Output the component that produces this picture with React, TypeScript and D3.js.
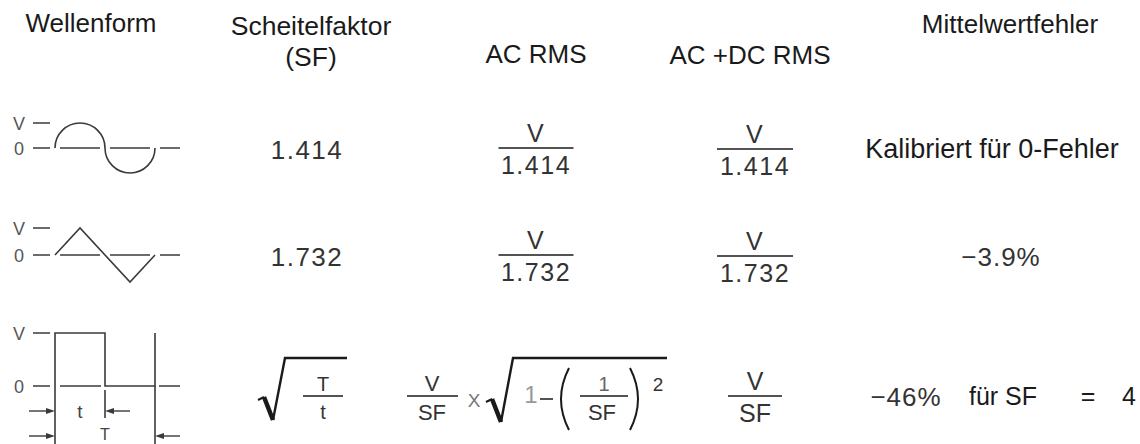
import * as d3 from "d3";

const headers = [
  { lines: ["Wellenform"], x: 91, y: [32], size: 26 },
  { lines: ["Scheitelfaktor", "(SF)"], x: 311, y: [35, 66], size: 26.5 },
  { lines: ["AC RMS"], x: 536, y: [63], size: 26 },
  { lines: ["AC +DC RMS"], x: 750, y: [64], size: 26 },
  { lines: ["Mittelwertfehler"], x: 1010, y: [33], size: 26 },
];

const waveforms = ["sine", "triangle", "pulse"];
const crestFactors = ["1.414", "1.732"];
const acRmsDenoms = ["1.414", "1.732"];
const acDcRmsDenoms = ["1.414", "1.732", "SF"];
const meanErrors = ["Kalibriert für 0-Fehler", "−3.9%"];
const pulseError = { value: "−46%", label: "für SF", eq: "=", sf: "4" };

const rowY = d3.scaleOrdinal<string, number>().domain(waveforms).range([149, 256, 396]);
const zeroY = d3.scaleOrdinal<string, number>().domain(waveforms).range([148, 255, 386]);
const amp = d3.scaleOrdinal<string, number>().domain(waveforms).range([25, 27, 53]);
const wx = d3.scaleLinear().domain([0, 4]).range([55, 155]);

const SANS = "'Liberation Sans', Arial, sans-serif";
const INK = "#1a1a1a";
const NUM = "#333";
const LINE = "#3a3a3a";

const Frac = ({ x, y, top, bottom, w, size = 25, spacing = 0 }: any) => (
  <g>
    <text x={x} y={y - 6} textAnchor="middle" fontSize={size} fill={NUM} letterSpacing={spacing}>{top}</text>
    <line x1={x - w / 2} x2={x + w / 2} y1={y} y2={y} stroke={INK} strokeWidth={1.6} />
    <text x={x} y={y + 26} textAnchor="middle" fontSize={size} fill={NUM} letterSpacing={spacing}>{bottom}</text>
  </g>
);

const Arrow = ({ from, to, y }: { from: number; to: number; y: number }) => {
  const dir = Math.sign(to - from);
  return (
    <g>
      <line x1={from} x2={to - dir * 7} y1={y} y2={y} stroke={LINE} strokeWidth={1.4} />
      <path d={`M${to},${y}L${to - dir * 9},${y - 3}L${to - dir * 9},${y + 3}Z`} fill={LINE} />
    </g>
  );
};

// radical sign: thin tick, heavy downstroke, thin upstroke, overbar
const Radical = ({ x, y, top, end }: { x: number; y: number; top: number; end: number }) => (
  <g fill="none" stroke={INK} strokeLinecap="butt">
    <path d={`M${x},${y + 4}L${x + 6},${y + 1}`} strokeWidth={2} />
    <path d={`M${x + 6},${y + 1}L${x + 15},${y + 24}`} strokeWidth={4.5} />
    <path d={`M${x + 15},${y + 24}L${x + 27},${top}L${end},${top}`} strokeWidth={2.4} strokeLinejoin="miter" />
  </g>
);

const Waveform = ({ kind }: { kind: string }) => {
  const z = zeroY(kind);
  const a = amp(kind);
  const vy = z - a;
  let d = "";
  if (kind === "sine") {
    const r = wx(1) - wx(0);
    const p = d3.path();
    p.moveTo(wx(0), z);
    p.arc(wx(1), z, r, Math.PI, 2 * Math.PI, false);
    p.arc(wx(3), z, r, Math.PI, 0, true);
    d = p.toString();
  } else if (kind === "triangle") {
    const pts: [number, number][] = [[0, 0], [1, 1], [3, -1], [4, 0]];
    d = d3.line<[number, number]>().x(p => wx(p[0])).y(p => z - p[1] * a)(pts) || "";
  } else {
    const pts: [number, number][] = [[0, 0], [0, 1], [2, 1], [2, 0], [4, 0], [4, 1]];
    d = d3.line<[number, number]>().x(p => wx(p[0])).y(p => z - p[1] * a)(pts) || "";
  }
  const segs = kind === "pulse" ? [[33, 50], [60, 101], [159, 180]] : [[33, 50], [60, 100], [110, 150], [160, 180]];
  return (
    <g>
      <text x={19} y={vy + 6.5} textAnchor="middle" fontSize={18} fill="#555">V</text>
      <text x={19} y={z + 6.5} textAnchor="middle" fontSize={18} fill="#555">0</text>
      <line x1={33} x2={50} y1={vy} y2={vy} stroke={LINE} strokeWidth={1.5} />
      {segs.map((s, i) => (
        <line key={i} x1={s[0]} x2={s[1]} y1={z} y2={z} stroke={LINE} strokeWidth={1.5} />
      ))}
      <path d={d} fill="none" stroke={LINE} strokeWidth={1.6} />
      {kind === "pulse" && (
        <g>
          <line x1={wx(0)} x2={wx(0)} y1={z} y2={444} stroke={LINE} strokeWidth={1.6} />
          <line x1={wx(4)} x2={wx(4)} y1={z} y2={444} stroke={LINE} strokeWidth={1.6} />
          <line x1={wx(2)} x2={wx(2)} y1={z + 4} y2={z + 32} stroke={LINE} strokeWidth={1.6} />
          <Arrow from={29} to={wx(0)} y={411} />
          <Arrow from={130} to={wx(2)} y={411} />
          <text x={80} y={418} textAnchor="middle" fontSize={19} fill="#444">t</text>
          <Arrow from={29} to={wx(0)} y={436} />
          <Arrow from={180} to={wx(4)} y={436} />
          <text x={wx(2)} y={440} textAnchor="middle" fontSize={16} fill="#444">T</text>
        </g>
      )}
    </g>
  );
};

export default function App() {
  const y3 = rowY("pulse");
  const top = 358;
  return (
    <svg width={1140} height={444} style={{ position: "absolute", left: 0, top: 0, background: "#fff" }} fontFamily={SANS}>
      {headers.map((h, i) => (
        <g key={i}>
          {h.lines.map((l, j) => (
            <text key={j} x={h.x} y={h.y[j]} textAnchor="middle" fontSize={h.size} fill={INK}>{l}</text>
          ))}
        </g>
      ))}

      {waveforms.map(k => <Waveform key={k} kind={k} />)}

      {crestFactors.map((c, i) => (
        <text key={i} x={307} y={rowY(waveforms[i]) + 10} textAnchor="middle" fontSize={26} fill={NUM} letterSpacing={1.5}>{c}</text>
      ))}
      {acRmsDenoms.map((c, i) => (
        <Frac key={i} x={536} y={rowY(waveforms[i]) - 1} top="V" bottom={c} w={75} spacing={1.5} />
      ))}
      {acDcRmsDenoms.map((c, i) => (
        <Frac key={i} x={755} y={rowY(waveforms[i])} top="V" bottom={c} w={c === "SF" ? 54 : 76} spacing={c === "SF" ? 0 : 1.5} />
      ))}
      <text x={992} y={rowY("sine") + 9} textAnchor="middle" fontSize={27} fill={INK}>{meanErrors[0]}</text>
      <text x={1001} y={rowY("triangle") + 10} textAnchor="middle" fontSize={26} fill={NUM} letterSpacing={1}>{meanErrors[1]}</text>

      {/* crest factor of the pulse: sqrt(T/t) */}
      <Radical x={258} y={y3} top={top} end={347} />
      <text x={323} y={y3 - 5} textAnchor="middle" fontSize={20} fill={NUM}>T</text>
      <line x1={303} x2={343} y1={y3} y2={y3} stroke={INK} strokeWidth={1.6} />
      <text x={323} y={y3 + 23} textAnchor="middle" fontSize={20} fill={NUM}>t</text>

      {/* AC RMS of the pulse: V/SF x sqrt(1-(1/SF)^2) */}
      <text x={432} y={y3 - 5} textAnchor="middle" fontSize={22} fill={NUM}>V</text>
      <line x1={407} x2={458} y1={y3} y2={y3} stroke={INK} strokeWidth={1.6} />
      <text x={432} y={y3 + 24} textAnchor="middle" fontSize={22} fill={NUM}>SF</text>
      <text x={474} y={y3 + 11} textAnchor="middle" fontSize={19} fill="#777">X</text>
      <Radical x={486} y={y3 + 2} top={top} end={667} />
      <text x={531} y={y3 + 7} textAnchor="middle" fontSize={24} fill="#999">1</text>
      <line x1={540} x2={553} y1={y3 + 3} y2={y3 + 3} stroke={INK} strokeWidth={1.5} />
      <path d={`M569,${top + 10}Q553,${y3 + 3} 569,${y3 + 34}`} fill="none" stroke={INK} strokeWidth={2} />
      <text x={604} y={y3 - 5} textAnchor="middle" fontSize={20} fill="#666">1</text>
      <line x1={580} x2={628} y1={y3} y2={y3} stroke={INK} strokeWidth={1.6} />
      <text x={602} y={y3 + 24} textAnchor="middle" fontSize={22} fill={NUM}>SF</text>
      <path d={`M630,${top + 10}Q646,${y3 + 3} 630,${y3 + 34}`} fill="none" stroke={INK} strokeWidth={2} />
      <text x={658} y={y3 - 5} textAnchor="middle" fontSize={19} fill={NUM}>2</text>

      {/* mean error of the pulse */}
      <text x={906} y={y3 + 10} textAnchor="middle" fontSize={26} fill={NUM} letterSpacing={1}>{pulseError.value}</text>
      <text x={1003} y={y3 + 9} textAnchor="middle" fontSize={25} fill={INK}>{pulseError.label}</text>
      <text x={1088} y={y3 + 9} textAnchor="middle" fontSize={25} fill={INK}>{pulseError.eq}</text>
      <text x={1129} y={y3 + 9} textAnchor="middle" fontSize={25} fill={INK}>{pulseError.sf}</text>
    </svg>
  );
}
